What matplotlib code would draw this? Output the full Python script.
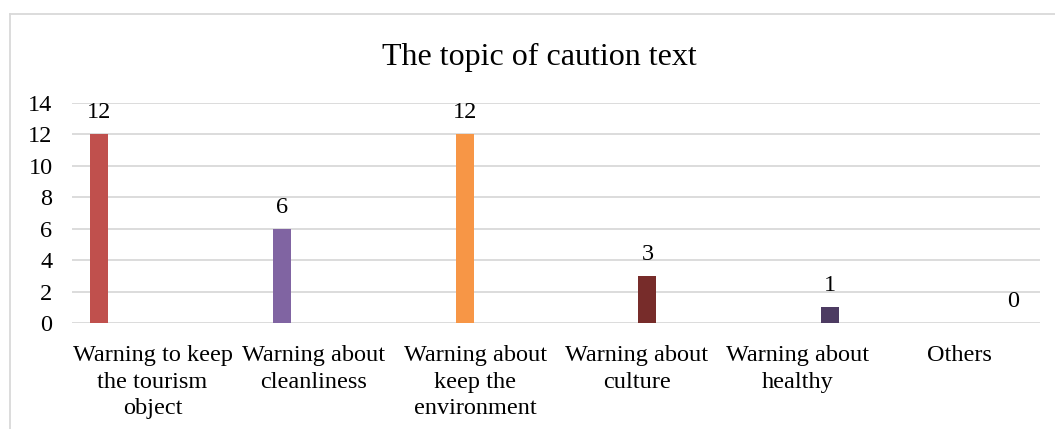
import matplotlib
matplotlib.use("Agg")
import matplotlib.pyplot as plt
from matplotlib.lines import Line2D
import numpy as np

# ── data ──────────────────────────────────────────────────────────────────────
categories = [
    "Warning to keep\nthe tourism\nobject",
    "Warning about\ncleanliness",
    "Warning about\nkeep the\nenvironment",
    "Warning about\nculture",
    "Warning about\nhealthy",
    "Others",
]
counts = [12, 6, 12, 3, 1, 0]
bar_colors = ["#C0504D", "#8064A2", "#F79646", "#772C2A", "#4D3B62", "#B65708"]
y_ticks = [0, 2, 4, 6, 8, 10, 12, 14]

plt.rcParams["font.family"] = ["Liberation Serif", "DejaVu Serif"]
FS = 17.5

fig = plt.figure(figsize=(10.55, 4.29), dpi=100)
fig.patch.set_facecolor("white")
ax = fig.add_axes([0.0682, 0.247, 0.9176, 0.513])

# each series sits in its own slot of a six-wide cluster
n = len(categories)
x = np.arange(n)
slot = 0.1333
bar_w = 0.112
for i, (val, col) in enumerate(zip(counts, bar_colors)):
    xpos = x[i] + (i - (n - 1) / 2) * slot
    ax.bar(xpos, val, width=bar_w, color=col, zorder=3)
    ax.annotate(str(val), (xpos, val), xytext=(0, 8), textcoords="offset points",
                ha="center", va="bottom", fontsize=FS, color="#000000")

ax.set_xlim(-0.5, n - 0.5)
ax.set_ylim(0, 14)
ax.set_yticks(y_ticks)
ax.set_xticks(x)
ax.set_xticklabels(categories, fontsize=FS, linespacing=1.34)
ax.tick_params(axis="y", length=0, pad=14, labelsize=FS)
ax.tick_params(axis="x", length=0, pad=16)
for lab in ax.get_yticklabels():
    lab.set_horizontalalignment("right")

ax.grid(axis="y", color="#d9d9d9", linewidth=1.3, zorder=0)
for s in ax.spines.values():
    s.set_visible(False)

fig.text(0.511, 0.865, "The topic of caution text", ha="center", va="center",
         fontsize=23)

# chart frame (top and left edges)
fig.add_artist(Line2D([9.5 / 1055, 9.5 / 1055], [0, 1 - 13.5 / 429],
                      transform=fig.transFigure, color="#d9d9d9", linewidth=1.3))
fig.add_artist(Line2D([9.5 / 1055, 1], [1 - 13.5 / 429, 1 - 13.5 / 429],
                      transform=fig.transFigure, color="#d9d9d9", linewidth=1.3))

fig.savefig("out.png", dpi=100, facecolor=fig.get_facecolor())
